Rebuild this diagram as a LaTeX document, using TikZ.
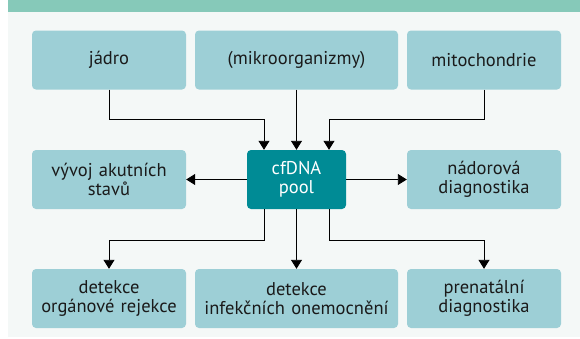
\documentclass[tikz,border=0pt]{standalone}
\usepackage{fontspec}
\setmainfont{PT Sans}
\usepackage{tikz}
\usetikzlibrary{arrows.meta}

\definecolor{bandgreen}{HTML}{86C9B9}
\definecolor{panelbg}{HTML}{F4F8F7}
\definecolor{boxblue}{HTML}{9DCFD6}
\definecolor{pooldark}{HTML}{008B95}
\definecolor{textdark}{HTML}{1A1A1A}

\begin{document}
\begin{tikzpicture}[x=1pt,y=-1pt]
\useasboundingbox (0,0) rectangle (580,338);
\fill[bandgreen] (8,0) rectangle (580,12);
\fill[panelbg] (8,12) rectangle (580,337);

\begin{scope}[every node/.style={rounded corners=4pt,fill=boxblue,text=textdark,minimum width=154pt,minimum height=59pt,
text width=150pt,align=center,inner sep=0pt,font=\fontsize{18.5}{19.5}\selectfont}]
\node (jadro) at (109,60) {jádro};
\node[minimum width=203pt,text width=199pt] (mikro) at (296.5,60) {(mikroorganizmy)};
\node (mito) at (484,60) {mitochondrie};
\node (vyvoj) at (109,179.5) {vývoj akutních\\stavů};
\node (nador) at (484,179.5) {nádorová\\diagnostika};
\node (rejekce) at (109,298.5) {detekce\\orgánové rejekce};
\node[minimum width=203pt,text width=199pt] (infekce) at (296.5,298.5) {detekce\\infekčních onemocnění};
\node (prenat) at (484,298.5) {prenatální\\diagnostika};
\node[fill=pooldark,text=white,minimum width=99pt,text width=95pt] (pool) at (296.5,179.5) {cfDNA\\pool};
\end{scope}

\begin{scope}[>={Triangle[width=11pt,length=9pt]},line width=0.9pt]
\draw[->] (jadro.south) -- ++(0,30) -| ([xshift=-32.5pt]pool.north);
\draw[->] (mikro) -- (pool);
\draw[->] (mito.south) -- ++(0,30) -| ([xshift=32.5pt]pool.north);
\draw[->] (pool) -- (vyvoj);
\draw[->] (pool) -- (nador);
\draw[->] ([xshift=-32.5pt]pool.south) -- ++(0,31) -| (rejekce.north);
\draw[->] (pool) -- (infekce);
\draw[->] ([xshift=32.5pt]pool.south) -- ++(0,31) -| (prenat.north);
\end{scope}
\end{tikzpicture}
\end{document}
